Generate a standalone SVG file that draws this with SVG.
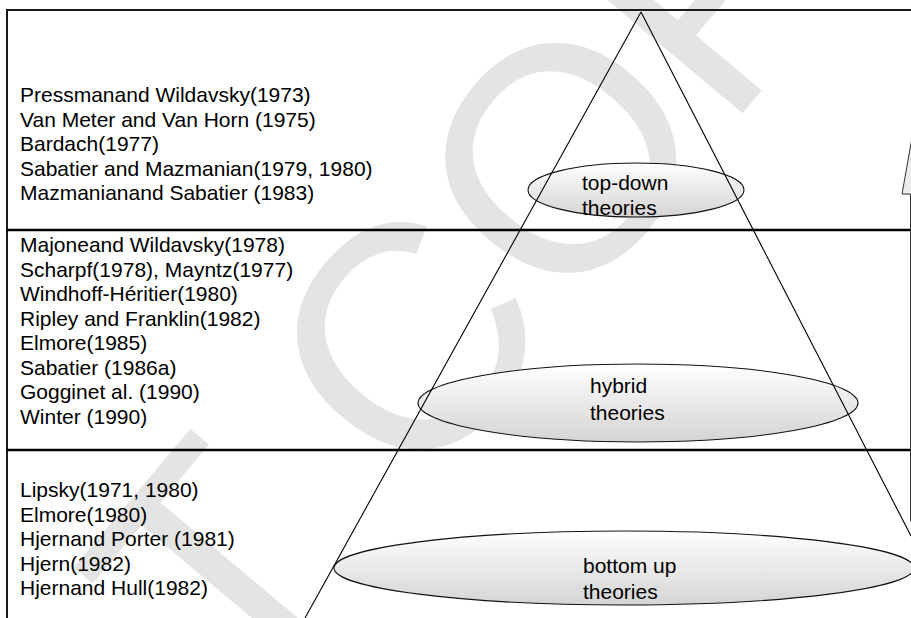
<svg xmlns="http://www.w3.org/2000/svg" width="911" height="618" viewBox="0 0 911 618">
  <style>
    .lbl { font-family: "Liberation Sans", Arial, sans-serif; font-size: 21px; fill: #000; }
    .frame { stroke: #1a1a1a; stroke-width: 2; fill: none; }
    .band { stroke: #000; stroke-width: 2.5; }
    .oval { fill: url(#ovalFill); stroke: #111; stroke-width: 1.1; }
    .edge { stroke: #000; stroke-width: 1.1; fill: none; }
    .wm { font-family: "Liberation Sans", Arial, sans-serif; font-size: 320px; fill: #e4e4e4; }
  </style>
  <defs>
    <linearGradient id="ovalFill" x1="0" y1="0" x2="0" y2="1">
      <stop offset="0" stop-color="#ffffff"/>
      <stop offset="1" stop-color="#d4d4d4"/>
    </linearGradient>
  </defs>

  <rect width="911" height="618" fill="#fff"/>

  <!-- faint background stamp -->
  <text class="wm" transform="translate(400 390) rotate(-50)" text-anchor="middle" dominant-baseline="middle">NOT COPY</text>

  <!-- outer frame and band separators -->
  <g id="frame">
    <path class="frame" d="M911,10 H7 V618"/>
    <line class="band" x1="7" y1="230" x2="911" y2="230"/>
    <line class="band" x1="7" y1="450" x2="911" y2="450"/>
  </g>

  <!-- upward block arrow at the right edge -->
  <g id="arrow">
    <path d="M917,110 L902,194 L910.5,194 L910.5,521 L930,521 Z" fill="#ececec" stroke="#333" stroke-width="1"/>
  </g>

  <!-- theory ellipses -->
  <g id="top-down">
    <ellipse class="oval" cx="636" cy="190" rx="108" ry="27"/>
  </g>
  <g id="hybrid">
    <ellipse class="oval" cx="638" cy="403" rx="220" ry="39"/>
  </g>
  <g id="bottom-up">
    <ellipse class="oval" cx="624" cy="568" rx="290" ry="37"/>
  </g>

  <!-- pyramid sides -->
  <g id="connectors">
    <line class="edge" x1="641" y1="12" x2="305" y2="618"/>
    <line class="edge" x1="641" y1="12" x2="911" y2="536"/>
  </g>

  <!-- ellipse labels -->
  <g id="labels">
    <text class="lbl" x="582" y="190">top-down</text>
    <text class="lbl" x="582" y="215">theories</text>
    <text class="lbl" x="590" y="393">hybrid</text>
    <text class="lbl" x="590" y="420">theories</text>
    <text class="lbl" x="583" y="573">bottom up</text>
    <text class="lbl" x="583" y="599">theories</text>
  </g>

  <!-- author lists per band -->
  <g id="list-top">
    <text class="lbl" x="20" y="102">Pressmanand Wildavsky(1973)</text>
    <text class="lbl" x="20" y="126.5">Van Meter and Van Horn (1975)</text>
    <text class="lbl" x="20" y="151">Bardach(1977)</text>
    <text class="lbl" x="20" y="175.5">Sabatier and Mazmanian(1979, 1980)</text>
    <text class="lbl" x="20" y="200">Mazmanianand Sabatier (1983)</text>
  </g>
  <g id="list-hybrid">
    <text class="lbl" x="20" y="252">Majoneand Wildavsky(1978)</text>
    <text class="lbl" x="20" y="276.5">Scharpf(1978), Mayntz(1977)</text>
    <text class="lbl" x="20" y="301">Windhoff-Héritier(1980)</text>
    <text class="lbl" x="20" y="325.5">Ripley and Franklin(1982)</text>
    <text class="lbl" x="20" y="350">Elmore(1985)</text>
    <text class="lbl" x="20" y="374.5">Sabatier (1986a)</text>
    <text class="lbl" x="20" y="399">Gogginet al. (1990)</text>
    <text class="lbl" x="20" y="423.5">Winter (1990)</text>
  </g>
  <g id="list-bottom">
    <text class="lbl" x="20" y="497">Lipsky(1971, 1980)</text>
    <text class="lbl" x="20" y="521.5">Elmore(1980)</text>
    <text class="lbl" x="20" y="546">Hjernand Porter (1981)</text>
    <text class="lbl" x="20" y="570.5">Hjern(1982)</text>
    <text class="lbl" x="20" y="595">Hjernand Hull(1982)</text>
  </g>
</svg>
